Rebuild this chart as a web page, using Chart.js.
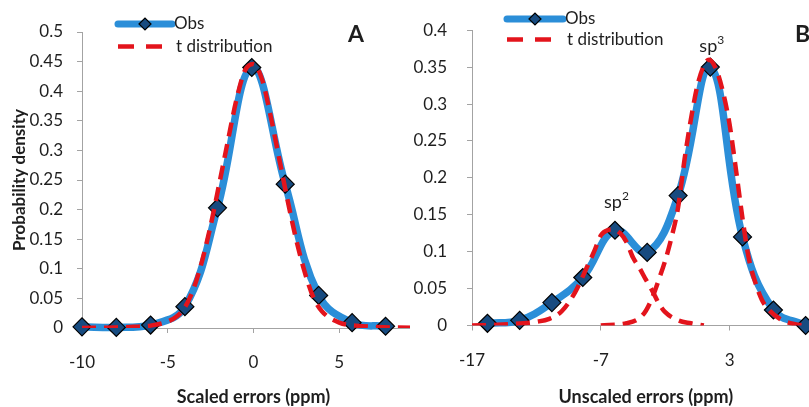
<!DOCTYPE html>
<html>
<head>
<meta charset="utf-8">
<script src="https://cdn.jsdelivr.net/npm/chart.js@4.4.1/dist/chart.umd.min.js"></script>
<style>
html, body { margin: 0; padding: 0; background: #fff; overflow: hidden; }
.panel { position: absolute; top: 0; height: 407px; overflow: hidden; }
#wrapA { left: 0; width: 410px; }
#wrapB { left: 410px; width: 399px; }
</style>
</head>
<body>
<div class="panel" id="wrapA"><canvas id="chartA" width="440" height="407"></canvas></div>
<div class="panel" id="wrapB"><canvas id="chartB" width="420" height="407"></canvas></div>
<script>
// Panel A - scaled errors
const obsAX = [-10, -8, -6, -4, -2.1, -0.1, 1.85, 3.8, 5.75, 7.7];
const obsAY = [0.002, 0.001, 0.005, 0.036, 0.203, 0.44, 0.243, 0.055, 0.009, 0.003];
const tAX = [-10, -8, -7, -6, -5, -4.5, -4, -3.5, -3, -2.5, -2, -1.5, -1, -0.5, 0, 0.5, 1, 1.5, 2, 2.5, 3, 3.5, 4, 5, 6, 8, 10];
const tAY = [0, 0.001, 0.002, 0.004, 0.011, 0.019, 0.035, 0.066, 0.113, 0.173, 0.243, 0.315, 0.385, 0.435, 0.446, 0.42, 0.358, 0.286, 0.214, 0.148, 0.093, 0.051, 0.028, 0.009, 0.004, 0.001, 0];
const xTicksA = [-10, -5, 0, 5];
const yTicksA = [0, 0.05, 0.1, 0.15, 0.2, 0.25, 0.3, 0.35, 0.4, 0.45, 0.5];

// Panel B - unscaled errors
const obsBX = [-15.8, -13.3, -10.8, -8.4, -5.9, -3.4, -1.0, 1.5, 4.0, 6.4, 8.9];
const obsBY = [0.003, 0.007, 0.031, 0.065, 0.129, 0.099, 0.176, 0.35, 0.12, 0.021, 0];
const sp2X = [-17, -15, -13, -12, -11, -10, -9, -8, -7.5, -7, -6.5, -6, -5.5, -5, -4.5, -4, -3.5, -3, -2.5, -2, -1, 0, 1];
const sp2Y = [0, 0.001, 0.003, 0.005, 0.009, 0.02, 0.045, 0.082, 0.101, 0.122, 0.129, 0.13, 0.125, 0.113, 0.092, 0.078, 0.062, 0.047, 0.03, 0.018, 0.007, 0.003, 0];
const sp3X = [-7, -5, -4, -3.5, -3, -2.5, -2, -1.5, -1, -0.5, 0, 0.5, 1, 1.4, 2, 2.5, 3, 3.5, 4, 4.5, 5, 5.5, 6, 7, 8, 9, 10];
const sp3Y = [0, 0.003, 0.01, 0.02, 0.038, 0.062, 0.088, 0.12, 0.16, 0.225, 0.28, 0.325, 0.352, 0.36, 0.345, 0.315, 0.272, 0.21, 0.145, 0.09, 0.058, 0.035, 0.022, 0.008, 0.002, 0, 0];
const xTicksB = [-17, -7, 3];
const yTicksB = [0, 0.05, 0.1, 0.15, 0.2, 0.25, 0.3, 0.35, 0.4];

const colors = {
  blue: '#2b8ed8',
  marker: '#174b80',
  red: '#e3141c',
  axis: '#a3a3a3',
  text: '#1e1e1e'
};

Chart.defaults.font.family = 'Lato';
Chart.defaults.color = colors.text;

const toPoints = (xs, ys) => xs.map((x, i) => ({ x: x, y: ys[i] }));

const obsDataset = (xs, ys) => ({
  label: 'Obs',
  data: toPoints(xs, ys),
  borderColor: colors.blue,
  borderWidth: 7.5,
  tension: 0.4,
  pointStyle: 'rectRot',
  pointRadius: 9,
  pointBackgroundColor: colors.marker,
  pointBorderColor: '#000',
  pointBorderWidth: 1.2,
  clip: false,
  order: 1
});

const tDataset = (xs, ys, label) => ({
  label: label,
  data: toPoints(xs, ys),
  borderColor: colors.red,
  borderWidth: 4.5,
  borderDash: [14, 8],
  borderCapStyle: 'butt',
  cubicInterpolationMode: 'monotone',
  pointRadius: 0,
  order: 0
});

// legend, panel letter and sp labels drawn on top
const decoPlugin = {
  id: 'deco',
  afterDatasetsDraw(chart, args, opts) {
    const ctx = chart.ctx;
    const lg = opts.legend;
    ctx.save();
    // Obs entry
    ctx.strokeStyle = colors.blue;
    ctx.lineWidth = 7;
    ctx.lineCap = 'round';
    ctx.beginPath();
    ctx.moveTo(lg.x, lg.y1);
    ctx.lineTo(lg.x + lg.w, lg.y1);
    ctx.stroke();
    const cx = lg.x + lg.w / 2;
    ctx.beginPath();
    ctx.moveTo(cx - 6, lg.y1);
    ctx.lineTo(cx, lg.y1 - 6);
    ctx.lineTo(cx + 6, lg.y1);
    ctx.lineTo(cx, lg.y1 + 6);
    ctx.closePath();
    ctx.fillStyle = colors.marker;
    ctx.fill();
    ctx.lineWidth = 1.2;
    ctx.strokeStyle = '#000';
    ctx.stroke();
    // t distribution entry
    ctx.strokeStyle = colors.red;
    ctx.lineWidth = 4.5;
    ctx.lineCap = 'butt';
    ctx.setLineDash([16, 12]);
    ctx.beginPath();
    ctx.moveTo(lg.x, lg.y2);
    ctx.lineTo(lg.x + lg.w, lg.y2);
    ctx.stroke();
    ctx.setLineDash([]);
    ctx.fillStyle = colors.text;
    ctx.font = '17px Lato';
    ctx.textAlign = 'left';
    ctx.textBaseline = 'middle';
    ctx.fillText('Obs', lg.x + lg.w + 2, lg.y1);
    ctx.fillText('t distribution', lg.x + lg.w + 4, lg.y2);
    // panel letter
    ctx.font = 'bold 23px Lato';
    ctx.textAlign = 'left';
    ctx.fillText(opts.letter.text, opts.letter.x, opts.letter.y);
    // peak labels
    (opts.notes || []).forEach(n => {
      const px = chart.scales.x.getPixelForValue(n.x);
      const py = chart.scales.y.getPixelForValue(n.y) + n.dy;
      ctx.font = '18px Lato';
      ctx.textBaseline = 'alphabetic';
      ctx.textAlign = 'center';
      const w = ctx.measureText(n.main).width;
      ctx.fillText(n.main, px - 2, py);
      ctx.font = '12px Lato';
      ctx.textAlign = 'left';
      ctx.fillText(n.sup, px - 2 + w / 2, py - 8);
    });
    ctx.restore();
  }
};

const fmt = v => String(Number(Number(v).toFixed(2)));

function axisX(min, max, ticks, title, tickPad, height) {
  return {
    type: 'linear',
    min: min,
    max: max,
    afterBuildTicks: s => { s.ticks = ticks.map(v => ({ value: v })); },
    afterFit: s => { s.height = height; },
    border: { color: colors.axis, width: 1 },
    grid: { drawOnChartArea: false, color: colors.axis, tickLength: 5 },
    ticks: { font: { size: 17 }, padding: tickPad, maxRotation: 0, callback: v => fmt(v) },
    title: { display: true, text: title, font: { size: 18, weight: 'bold' }, padding: { top: 0, bottom: -1 } }
  };
}

function axisY(min, max, ticks, title, tickPad, width) {
  const ax = {
    type: 'linear',
    min: min,
    max: max,
    afterBuildTicks: s => { s.ticks = ticks.map(v => ({ value: v })); },
    afterFit: s => { s.width = width; },
    border: { color: colors.axis, width: 1 },
    grid: { drawOnChartArea: false, color: colors.axis, tickLength: 5 },
    ticks: { font: { size: 17 }, padding: tickPad, callback: v => fmt(v) },
    title: { display: false }
  };
  if (title) {
    ax.title = { display: true, text: title, font: { size: 17, weight: 'bold' }, padding: { top: 9, bottom: 0 } };
  }
  return ax;
}

new Chart(document.getElementById('chartA'), {
  type: 'line',
  data: {
    datasets: [obsDataset(obsAX, obsAY), tDataset(tAX, tAY, 't distribution')]
  },
  options: {
    responsive: false,
    animation: false,
    layout: { padding: { top: 32, right: 15, bottom: 0, left: 0 } },
    plugins: {
      legend: { display: false },
      tooltip: { enabled: false },
      deco: {
        legend: { x: 118, w: 54, y1: 24, y2: 46.5 },
        letter: { text: 'A', x: 348, y: 35 },
        notes: []
      }
    },
    scales: {
      x: axisX(-10, 10, xTicksA, 'Scaled errors (ppm)', 19, 79),
      y: axisY(0, 0.5, yTicksA, 'Probability density', 14, 82)
    }
  },
  plugins: [decoPlugin]
});

new Chart(document.getElementById('chartB'), {
  type: 'line',
  data: {
    datasets: [
      obsDataset(obsBX, obsBY),
      tDataset(sp2X, sp2Y, 't distribution'),
      tDataset(sp3X, sp3Y, 't distribution (sp3)')
    ]
  },
  options: {
    responsive: false,
    animation: false,
    layout: { padding: { top: 20, right: 10, bottom: 0, left: 0 } },
    plugins: {
      legend: { display: false },
      tooltip: { enabled: false },
      deco: {
        legend: { x: 97, w: 56, y1: 19, y2: 39.5 },
        letter: { text: 'B', x: 385, y: 35 },
        notes: [
          { main: 'sp', sup: '2', x: obsBX[4], y: obsBY[4], dy: -22 },
          { main: 'sp', sup: '3', x: obsBX[7], y: obsBY[7], dy: -15 }
        ]
      }
    },
    scales: {
      x: axisX(-17, 10, xTicksB, 'Unscaled errors (ppm)', 20, 81.5),
      y: axisY(0, 0.4, yTicksB, null, 20, 62)
    }
  },
  plugins: [decoPlugin]
});
</script>
</body>
</html>
